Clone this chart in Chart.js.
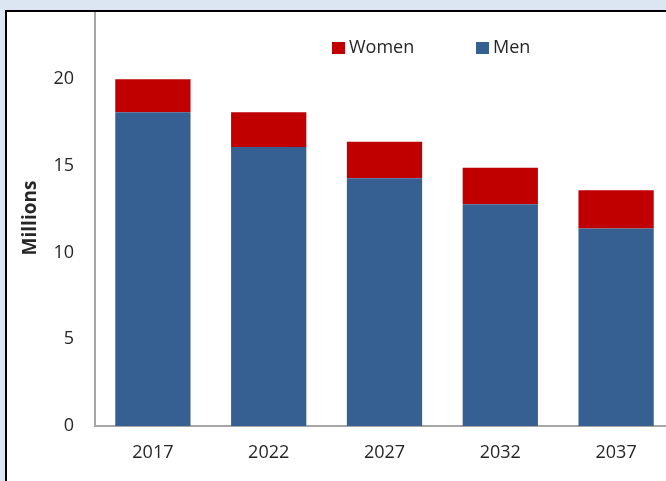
<!DOCTYPE html>
<html>
<head>
<meta charset="utf-8">
<script src="https://cdn.jsdelivr.net/npm/chart.js@4"></script>
<style>
  html, body { margin: 0; padding: 0; width: 666px; height: 481px; overflow: hidden; background: #dce6f2; }
  #panel { position: absolute; left: 5px; top: 10px; width: 700px; height: 500px; border-left: 2px solid #000; border-top: 2px solid #000; background: #fff; overflow: hidden; }
  #wrap { position: absolute; left: 0; top: -2px; width: 667px; height: 471px; }
</style>
</head>
<body>
<div id="panel"><div id="wrap"><canvas id="c" width="667" height="471"></canvas></div></div>
<script>
const years = ['2017', '2022', '2027', '2032', '2037'];
const men = [18.1, 16.1, 14.3, 12.8, 11.4];
const women = [1.9, 2.0, 2.1, 2.1, 2.2];
const yTicks = [0, 5, 10, 15, 20];
const seriesNames = ['Men', 'Women'];
const seriesColors = ['#376092', '#c00000'];

const FONT = '"Open Sans", sans-serif';
const TEXT = '#262626';

const legendPlugin = {
  id: 'customLegend',
  afterDraw(chart) {
    const ctx = chart.ctx;
    const a = chart.chartArea;
    const items = [
      { ds: chart.data.datasets[1], x: a.left + 237 },
      { ds: chart.data.datasets[0], x: a.left + 381 }
    ];
    ctx.save();
    ctx.font = '18px ' + FONT;
    ctx.textBaseline = 'middle';
    ctx.textAlign = 'left';
    items.forEach(it => {
      ctx.fillStyle = it.ds.backgroundColor;
      ctx.fillRect(it.x, a.top + 32, 13, 12);
      ctx.fillStyle = TEXT;
      ctx.fillText(it.ds.label, it.x + 17, a.top + 38);
    });
    ctx.restore();
  }
};

new Chart(document.getElementById('c'), {
  type: 'bar',
  data: {
    labels: years,
    datasets: [
      { label: seriesNames[0], data: men, backgroundColor: seriesColors[0], borderWidth: 0 },
      { label: seriesNames[1], data: women, backgroundColor: seriesColors[1], borderWidth: 0 }
    ]
  },
  options: {
    responsive: false,
    animation: false,
    layout: { padding: 0 },
    datasets: { bar: { barPercentage: 0.65, categoryPercentage: 1 } },
    plugins: { legend: { display: false }, tooltip: { enabled: false } },
    scales: {
      x: {
        stacked: true,
        grid: { display: false, drawTicks: false },
        border: { display: true, color: '#a6a6a6', width: 2 },
        ticks: { color: TEXT, font: { family: FONT, size: 18 }, padding: 16 },
        afterFit(s) { s.height = 55; s.paddingLeft = 0; s.paddingRight = 0; }
      },
      y: {
        stacked: true,
        min: 0,
        max: 24,
        grid: { display: false, drawTicks: false },
        border: { display: true, color: '#a6a6a6', width: 2 },
        ticks: { color: TEXT, font: { family: FONT, size: 18 }, padding: 21, stepSize: 5 },
        afterBuildTicks(s) { s.ticks = yTicks.map(v => ({ value: v })); },
        title: { display: true, text: 'Millions', color: TEXT, font: { family: FONT, size: 19, weight: 'bold' }, padding: { top: 12, bottom: 0 } },
        afterFit(s) { s.width = 88; s.paddingTop = 0; s.paddingBottom = 0; }
      }
    }
  },
  plugins: [legendPlugin]
});
</script>
</body>
</html>
